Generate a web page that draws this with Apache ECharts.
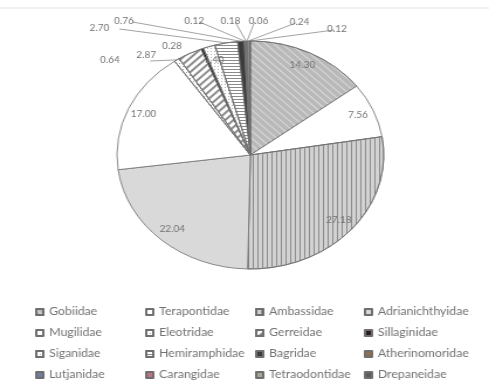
<!DOCTYPE html>
<html>
<head>
<meta charset="utf-8">
<script src="https://cdn.jsdelivr.net/npm/echarts@6/dist/echarts.min.js"></script>
<style>
  html, body { margin: 0; padding: 0; background: #fff; overflow: hidden; }
  #frame { width: 489px; height: 389px; overflow: hidden; }
  /* chart is laid out 418 px wide and stretched to the 489 px frame */
  #chart { width: 418px; height: 389px; transform: scaleX(1.1699); transform-origin: 0 0; }
</style>
</head>
<body>
<div id="frame"><div id="chart"></div></div>
<script>
// Fish families and their share (%) of the catch
const families = ['Gobiidae', 'Terapontidae', 'Ambassidae', 'Adrianichthyidae',
  'Mugilidae', 'Eleotridae', 'Gerreidae', 'Sillaginidae',
  'Siganidae', 'Hemiramphidae', 'Bagridae', 'Atherinomoridae',
  'Lutjanidae', 'Carangidae', 'Tetraodontidae', 'Drepaneidae'];
const shares = [14.30, 7.56, 27.18, 22.04, 17.00, 0.64, 2.87, 0.28,
  1.40, 2.70, 0.76, 0.12, 0.18, 0.06, 0.24, 0.12];
// families whose value label sits inside the slice
const insideLabelled = ['Gobiidae', 'Terapontidae', 'Ambassidae', 'Adrianichthyidae', 'Mugilidae', 'Siganidae'];

// where the callout labels of the thin slices are parked (chart px)
const calloutSpots = {
  Eleotridae:      [94, 60],
  Gerreidae:       [125, 55],
  Sillaginidae:    [147, 46],
  Hemiramphidae:   [85, 28],
  Bagridae:        [106, 21],
  Atherinomoridae: [166, 21],
  Lutjanidae:      [197, 21],
  Carangidae:      [221, 21],
  Tetraodontidae:  [256, 22],
  Drepaneidae:     [288, 29]
};

const LINE = '#6f6f6f';
const fills = {
  Gobiidae:        { color: '#b9b9b9', decal: { symbol: 'rect', symbolSize: 1, dashArrayX: [1, 0], dashArrayY: [1, 4], rotation: Math.PI / 4, color: '#dadada' } },
  Terapontidae:    { color: '#ffffff' },
  Ambassidae:      { color: '#d2d2d2', decal: { symbol: 'rect', symbolSize: 1, dashArrayX: [1, 3], dashArrayY: [1, 0], color: '#8c8c8c' } },
  Adrianichthyidae:{ color: '#d9d9d9' },
  Mugilidae:       { color: '#ffffff' },
  Eleotridae:      { color: '#ffffff', decal: { symbol: 'rect', symbolSize: 1, dashArrayX: [1, 2], dashArrayY: [1, 2], color: '#a0a0a0' } },
  Gerreidae:       { color: '#ffffff', decal: { symbol: 'rect', symbolSize: 1, dashArrayX: [1, 0], dashArrayY: [2, 3], rotation: -Math.PI / 4, color: '#8c8c8c' } },
  Sillaginidae:    { color: '#2a1a22' },
  Siganidae:       { color: '#ffffff', decal: { symbol: 'rect', symbolSize: 1, dashArrayX: [1, 2], dashArrayY: [1, 2], color: '#b0b0b0' } },
  Hemiramphidae:   { color: '#ffffff', decal: { symbol: 'rect', symbolSize: 1, dashArrayX: [1, 0], dashArrayY: [1, 2], color: '#8a8a8a' } },
  Bagridae:        { color: '#3c3c3c' },
  Atherinomoridae: { color: '#8e6f52' },
  Lutjanidae:      { color: '#6b7ea6' },
  Carangidae:      { color: '#c07482' },
  Tetraodontidae:  { color: '#a2aa92' },
  Drepaneidae:     { color: '#5a5a5a' }
};

const FONT = 'Lato, "Open Sans", sans-serif';
const TEXT = '#737373';
const CX = 214, CY = 155, R = 114;

const sliceData = families.map((name, i) => ({
  name: name,
  value: shares[i],
  itemStyle: Object.assign({ borderColor: LINE, borderWidth: 0.8 }, fills[name]),
  label: { show: insideLabelled.indexOf(name) < 0 }
}));

const ringData = families.map((name, i) => ({
  name: name,
  value: shares[i],
  label: { show: insideLabelled.indexOf(name) >= 0 }
}));

// straight leader from the rim point of the slice to the nearest side of its label
function placeCallout(params) {
  const spot = calloutSpots[families[params.dataIndex]];
  if (!spot || !params.labelLinePoints) return {};
  const rim = params.labelLinePoints[0];
  const hw = params.rect.width / 2 + 1.5;
  const hh = params.rect.height / 2;
  let end;
  if (spot[0] + hw < rim[0] - 4) end = [spot[0] + hw, spot[1] + 1];
  else if (spot[0] - hw > rim[0] + 4) end = [spot[0] - hw, spot[1] + 1];
  else end = [spot[0] + (rim[0] - spot[0]) * 0.3, spot[1] + hh];
  return {
    x: spot[0], y: spot[1], align: 'center', verticalAlign: 'middle',
    hideOverlap: false,
    labelLinePoints: [rim, end, end]
  };
}

// four legend columns, read row by row
const legendColumns = [0, 1, 2, 3].map(c => families.filter((_, i) => i % 4 === c));
const colLeft = [30, 124, 218, 311];

const chart = echarts.init(document.getElementById('chart'), null, { renderer: 'canvas' });
chart.setOption({
  animation: false,
  backgroundColor: '#ffffff',
  legend: legendColumns.map((col, c) => ({
    data: col,
    orient: 'vertical',
    left: colLeft[c],
    top: 306,
    itemWidth: 6,
    itemHeight: 6,
    itemGap: 9,
    padding: 0,
    selectedMode: false,
    icon: 'rect',
    textStyle: { fontFamily: FONT, fontSize: 10.5, color: TEXT, lineHeight: 12 }
  })),
  graphic: [{
    type: 'line', silent: true,
    shape: { x1: 0, y1: 8, x2: 418, y2: 8 },
    style: { stroke: '#e2e2e2', lineWidth: 1 }
  }],
  series: [{
    type: 'pie',
    center: [CX, CY],
    radius: [0, R],
    startAngle: 90,
    clockwise: true,
    silent: true,
    avoidLabelOverlap: false,
    data: sliceData,
    label: {
      position: 'outside',
      formatter: p => p.value.toFixed(2),
      fontFamily: FONT, fontSize: 8.5, color: TEXT
    },
    labelLine: { show: true, length: 8, length2: 8, lineStyle: { color: '#8c8c8c', width: 0.8 } },
    labelLayout: placeCallout,
    emphasis: { disabled: true }
  }, {
    // transparent ring that carries the inside labels out near the rim
    type: 'pie',
    center: [CX, CY],
    radius: [80, R],
    startAngle: 90,
    clockwise: true,
    silent: true,
    data: ringData,
    itemStyle: { color: 'rgba(0,0,0,0)', borderWidth: 0 },
    label: {
      position: 'inside',
      formatter: p => p.value.toFixed(2),
      fontFamily: FONT, fontSize: 8.5, color: TEXT
    },
    labelLine: { show: false },
    emphasis: { disabled: true }
  }]
});
</script>
</body>
</html>
